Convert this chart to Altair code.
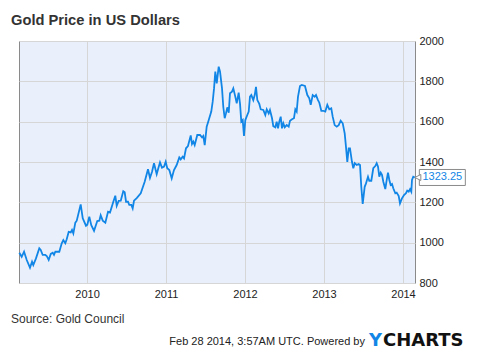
import altair as alt
import pandas as pd

title_text = "Gold Price in US Dollars"
source_text = "Source: Gold Council"
footer_text = "Feb 28 2014, 3:57AM UTC.  Powered by"
last_label = "1323.25"

# decimal year positions of the sampled points
years = [
    2009.143, 2009.173, 2009.203, 2009.237, 2009.278, 2009.304, 2009.320, 2009.354, 2009.396, 2009.414,
    2009.439, 2009.472, 2009.490, 2009.515, 2009.541, 2009.566, 2009.582, 2009.599, 2009.649, 2009.680,
    2009.700, 2009.725, 2009.743, 2009.768, 2009.794, 2009.810, 2009.827, 2009.852, 2009.870, 2009.920,
    2009.946, 2009.987, 2010.004, 2010.029, 2010.054, 2010.089, 2010.130, 2010.156, 2010.173, 2010.199,
    2010.232, 2010.266, 2010.291, 2010.333, 2010.358, 2010.376, 2010.401, 2010.427, 2010.459, 2010.477,
    2010.494, 2010.519, 2010.535, 2010.561, 2010.578, 2010.595, 2010.629, 2010.680, 2010.730, 2010.772,
    2010.797, 2010.823, 2010.848, 2010.882, 2010.908, 2010.924, 2010.949, 2010.975, 2010.996, 2011.016,
    2011.042, 2011.072, 2011.101, 2011.135, 2011.168, 2011.186, 2011.211, 2011.228, 2011.253, 2011.278,
    2011.313, 2011.329, 2011.346, 2011.363, 2011.396, 2011.430, 2011.456, 2011.472, 2011.490, 2011.515,
    2011.541, 2011.573, 2011.591, 2011.608, 2011.624, 2011.642, 2011.667, 2011.684, 2011.709, 2011.725,
    2011.743, 2011.759, 2011.776, 2011.794, 2011.810, 2011.835, 2011.852, 2011.877, 2011.895, 2011.920,
    2011.937, 2011.953, 2011.971, 2011.987, 2012.004, 2012.029, 2012.047, 2012.063, 2012.080, 2012.105,
    2012.123, 2012.139, 2012.156, 2012.181, 2012.199, 2012.232, 2012.257, 2012.275, 2012.300, 2012.316,
    2012.342, 2012.358, 2012.384, 2012.401, 2012.418, 2012.434, 2012.452, 2012.468, 2012.485, 2012.503,
    2012.528, 2012.553, 2012.570, 2012.595, 2012.620, 2012.637, 2012.654, 2012.671, 2012.696, 2012.718,
    2012.759, 2012.789, 2012.814, 2012.832, 2012.857, 2012.882, 2012.899, 2012.924, 2012.941, 2012.966,
    2012.991, 2013.016, 2013.042, 2013.067, 2013.092, 2013.110, 2013.135, 2013.161, 2013.186, 2013.211,
    2013.237, 2013.262, 2013.278, 2013.295, 2013.313, 2013.329, 2013.354, 2013.371, 2013.389, 2013.414,
    2013.439, 2013.456, 2013.472, 2013.490, 2013.515, 2013.532, 2013.557, 2013.573, 2013.599, 2013.624,
    2013.649, 2013.667, 2013.684, 2013.700, 2013.718, 2013.734, 2013.751, 2013.776, 2013.794, 2013.810,
    2013.827, 2013.844, 2013.861, 2013.877, 2013.903, 2013.920, 2013.946, 2013.962, 2013.987, 2014.013,
    2014.038, 2014.054, 2014.072, 2014.089, 2014.105, 2014.114, 2014.130, 2014.150,
]

prices = [
    950, 930, 955, 914, 876, 906, 889, 922, 972, 964,
    939, 939, 934, 914, 944, 950, 940, 955, 955, 997,
    1013, 997, 1017, 1054, 1051, 1063, 1046, 1099, 1109, 1190,
    1121, 1084, 1089, 1129, 1087, 1059, 1107, 1109, 1136, 1109,
    1099, 1153, 1149, 1203, 1233, 1183, 1207, 1208, 1255, 1250,
    1203, 1203, 1187, 1187, 1170, 1208, 1221, 1245, 1302, 1364,
    1321, 1352, 1394, 1340, 1377, 1398, 1372, 1377, 1401, 1369,
    1360, 1319, 1360, 1385, 1423, 1413, 1426, 1418, 1468, 1479,
    1532, 1489, 1501, 1484, 1534, 1534, 1522, 1529, 1484, 1575,
    1608, 1650, 1699, 1765, 1848, 1790, 1873, 1848, 1765, 1674,
    1617, 1641, 1671, 1644, 1741, 1749, 1765, 1724, 1691, 1744,
    1688, 1600, 1608, 1529, 1608, 1633, 1650, 1724, 1732, 1707,
    1732, 1773, 1707, 1688, 1661, 1658, 1633, 1661, 1641, 1658,
    1617, 1578, 1572, 1600, 1567, 1600, 1625, 1567, 1592, 1572,
    1583, 1575, 1605, 1612, 1617, 1661, 1650, 1724, 1777, 1782,
    1777, 1732, 1716, 1683, 1732, 1724, 1732, 1707, 1694, 1654,
    1654, 1650, 1683, 1661, 1666, 1625, 1583, 1575, 1583, 1605,
    1592, 1542, 1476, 1401, 1468, 1468, 1401, 1369, 1394, 1385,
    1390, 1385, 1277, 1192, 1277, 1294, 1327, 1307, 1307, 1369,
    1380, 1394, 1377, 1327, 1347, 1336, 1302, 1266, 1311, 1347,
    1311, 1286, 1291, 1270, 1245, 1248, 1231, 1195, 1220, 1236,
    1245, 1258, 1253, 1265, 1253, 1311, 1327, 1323.25,
]

x_ticks = [2010, 2011, 2012, 2013, 2014]
y_ticks = [800, 1000, 1200, 1400, 1600, 1800, 2000]
x_domain = [2009.139, 2014.152]
y_domain = [800, 2000]

df = pd.DataFrame({"year": years, "price": prices})
last = df.tail(1).assign(label=last_label)

FONT = "Liberation Sans"
BLUE = "#1286e6"

x_enc = alt.X(
    "year:Q",
    scale=alt.Scale(domain=x_domain, nice=False, zero=False),
    axis=alt.Axis(values=x_ticks, format="d", title=None, grid=True,
                  gridColor="#d6d6d6", tickSize=0, labelPadding=5,
                  domain=False, labelFontSize=11, labelColor="#222",
                  labelFont=FONT),
)
y_enc = alt.Y(
    "price:Q",
    scale=alt.Scale(domain=y_domain, nice=False, zero=False),
    axis=alt.Axis(values=y_ticks, format="d", orient="right", title=None, grid=True,
                  gridColor="#d6d6d6", tickSize=0, labelPadding=4,
                  domain=False, labelFontSize=11, labelColor="#222",
                  labelFont=FONT, labelBaseline="middle"),
)

line = alt.Chart(df).mark_line(color=BLUE, strokeWidth=1.8).encode(x=x_enc, y=y_enc)

box = alt.Chart(last).mark_rect(
    fill="white", stroke="#8a8a8a", strokeWidth=1,
    xOffset=4.5, x2Offset=50.5, yOffset=-8, y2Offset=8,
).encode(x="year:Q", x2="year:Q", y="price:Q", y2="price:Q")

pointer = alt.Chart(last).mark_point(
    shape="M-1,0L1,-1L1,1Z", size=36, filled=True, fill="white",
    stroke="#8a8a8a", strokeWidth=1, xOffset=3, opacity=1,
).encode(x="year:Q", y="price:Q")

label = alt.Chart(last).mark_text(
    color=BLUE, fontSize=11, font=FONT, align="center", baseline="middle", dx=27.5,
).encode(x="year:Q", y="price:Q", text="label:N")

def txt(s, x, y, **kw):
    return alt.Chart(pd.DataFrame({"t": [s]})).mark_text(
        align=kw.pop("align", "left"), baseline="middle", font=kw.pop("font", FONT), **kw
    ).encode(x=alt.value(x), y=alt.value(y), text="t:N")

title = txt(title_text, -8, -20, fontSize=14.7, fontWeight="bold", color="#333")
source = txt(source_text, -8, 278, fontSize=12, color="#333")
footer = txt(footer_text, 346, 301, fontSize=11, color="#222", align="right")
logo_y = txt("Y", 350, 300, fontSize=18, fontWeight="bold", color=BLUE, font="DejaVu Sans")
logo_rest = txt("CHARTS", 364, 300, fontSize=18, fontWeight="bold", color="#111", font="DejaVu Sans")

chart = alt.layer(line, box, pointer, label, title, source, footer, logo_y, logo_rest).properties(
    width=396, height=242,
    autosize=alt.AutoSizeParams(type="none"),
    padding={"left": 11, "top": 33, "right": 57, "bottom": 69},
    background="white",
).configure_view(fill="#eaf0fb", stroke="#8a8a8a", strokeWidth=1)

chart.save("out.html", embed_options={"renderer": "svg", "actions": False})
